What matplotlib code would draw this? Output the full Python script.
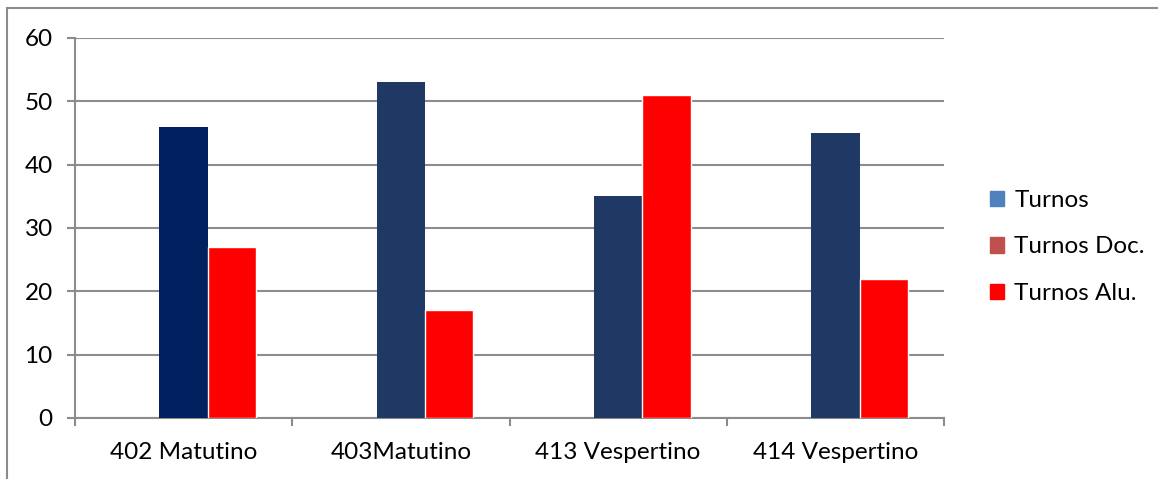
import numpy as np
import matplotlib.pyplot as plt
from matplotlib.patches import Patch, Rectangle
from matplotlib.ticker import FixedLocator

# turnos por grupo
grupos = ['402 Matutino', '403Matutino', '413 Vespertino', '414 Vespertino']
turnos = [0, 0, 0, 0]
turnos_doc = [46, 53, 35, 45]
turnos_alu = [27, 17, 51, 22]
series = ['Turnos', 'Turnos Doc.', 'Turnos Alu.']

GRID = '#8c8c8c'
FS = 17.5
plt.rcParams['font.family'] = ['Lato', 'DejaVu Sans']

fig = plt.figure(figsize=(11.58, 4.79), dpi=100)
ax = fig.add_axes([75 / 1158, 1 - 418 / 479, (944 - 75) / 1158, (418 - 38) / 479])

x = np.arange(len(grupos))
w = 1 / 4.5
doc_colors = ['#002060', '#1f3864', '#1f3864', '#1f3864']
ax.bar(x - w, turnos, w, color='#4f81bd', zorder=3)
ax.bar(x, turnos_doc, w, color=doc_colors, zorder=3)
ax.bar(x + w, turnos_alu, w, color='#ff0000', edgecolor='white', linewidth=1, zorder=3)

ax.set_xlim(-0.5, len(grupos) - 0.5)
ax.set_ylim(0, 60)
ax.set_yticks(range(0, 61, 10))
ax.set_xticks(x)
ax.set_xticklabels(grupos)
ax.xaxis.set_minor_locator(FixedLocator(np.arange(-0.5, len(grupos), 1)))

ax.grid(axis='y', color=GRID, linewidth=1.5, zorder=0)
for s in ['top', 'right']:
    ax.spines[s].set_visible(False)
for s in ['left', 'bottom']:
    ax.spines[s].set_color(GRID)
    ax.spines[s].set_linewidth(1.5)

ax.tick_params(axis='y', length=6, width=1.5, color=GRID, labelsize=FS, pad=10)
ax.tick_params(axis='x', which='major', length=0, labelsize=FS, pad=17)
ax.tick_params(axis='x', which='minor', length=5.5, width=1.5, color=GRID)

handles = [Patch(color=c) for c in ['#4f81bd', '#c0504d', '#ff0000']]
fig.legend(handles, series, loc='center left', bbox_to_anchor=(968 / 1158, 1 - 247 / 479),
           frameon=False, fontsize=FS, handlelength=0.6, handleheight=0.6,
           handletextpad=0.4, labelspacing=1.05)

# marco exterior del gráfico
fig.patches.append(Rectangle((7 / 1158, -0.5), 2, 1.5 - 8 / 479, transform=fig.transFigure,
                             fill=False, edgecolor=GRID, linewidth=1.5))

fig.savefig('out.png', dpi=100)
